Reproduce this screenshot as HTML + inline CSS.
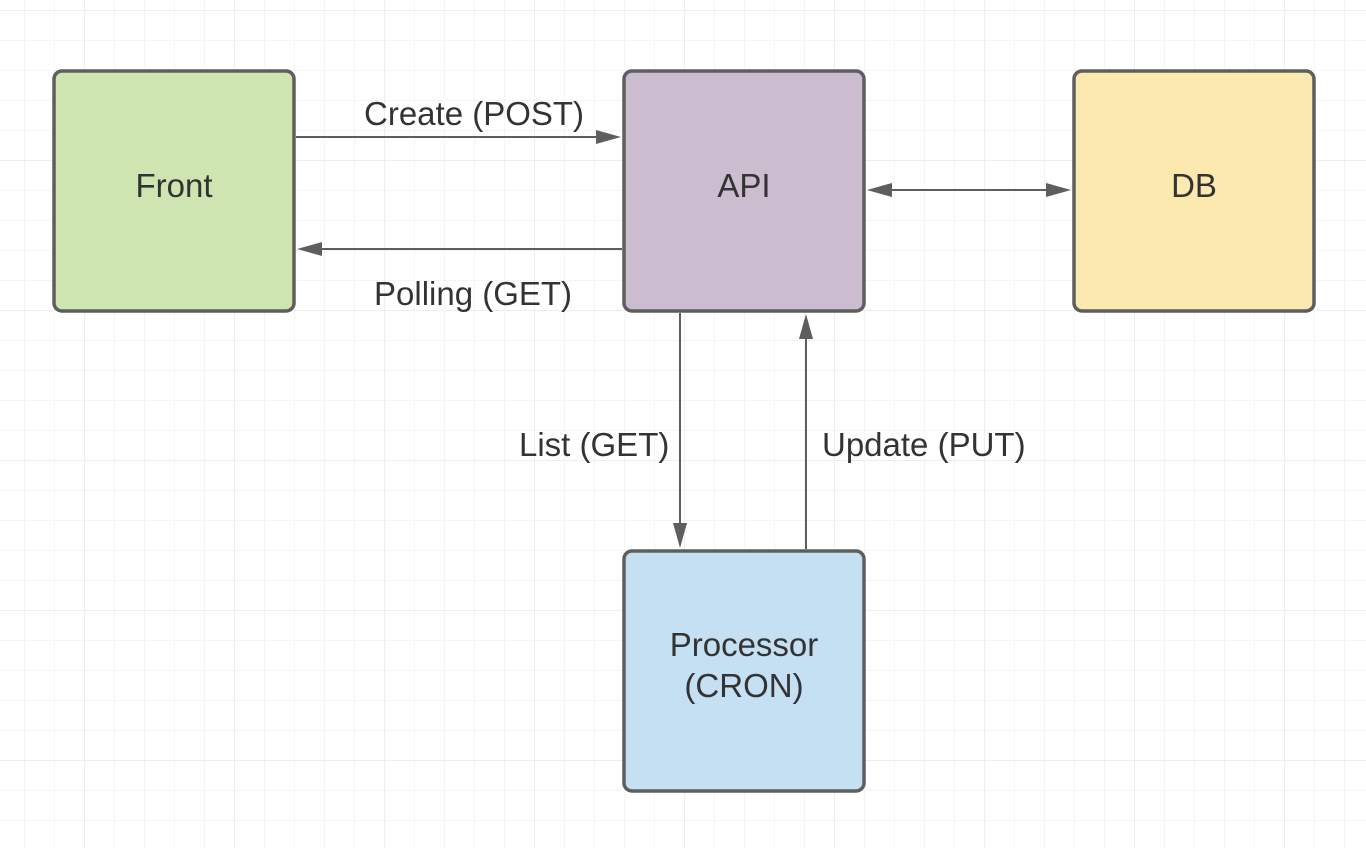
<!DOCTYPE html>
<html><head><meta charset="utf-8"><style>
html,body{margin:0;padding:0;background:#fff;}
svg{display:block;}
text{font-family:"Liberation Sans",sans-serif;fill:#333;}
</style></head><body>
<svg width="1366" height="848" viewBox="0 0 1366 848" xmlns="http://www.w3.org/2000/svg">
<defs>
<pattern id="g" x="24" y="10" width="30" height="30" patternUnits="userSpaceOnUse">
<path d="M0 0H30M0 0V30" stroke="#ebebeb" stroke-width="1" fill="none"/>
</pattern>
<pattern id="G" x="84" y="10" width="150" height="150" patternUnits="userSpaceOnUse">
<path d="M0 0H150M0 0V150" stroke="#dedede" stroke-width="1" fill="none"/>
</pattern>
</defs>
<rect width="1366" height="848" fill="url(#g)"/>
<rect width="1366" height="848" fill="url(#G)"/>
<g stroke="#5e5e5e" stroke-width="3.5">
<rect x="54" y="71" width="240" height="240" rx="8" fill="#cfe5b1"/>
<rect x="624" y="71" width="240" height="240" rx="8" fill="#cbbccf"/>
<rect x="1074" y="71" width="240" height="240" rx="8" fill="#fce9b0"/>
<rect x="624" y="551" width="240" height="240" rx="8" fill="#c5e0f3"/>
</g>
<g stroke="#5e5e5e" stroke-width="2" fill="none">
<path d="M296 137H596"/>
<path d="M596 130L621 137L596 144z" fill="#5e5e5e" stroke="none"/>
<path d="M622 249H322"/>
<path d="M322 242L297 249L322 256z" fill="#5e5e5e" stroke="none"/>
<path d="M892 190H1046"/>
<path d="M892 183L867 190L892 197z" fill="#5e5e5e" stroke="none"/>
<path d="M1046 183L1071 190L1046 197z" fill="#5e5e5e" stroke="none"/>
<path d="M680 313V523"/>
<path d="M673 523L680 548L687 523z" fill="#5e5e5e" stroke="none"/>
<path d="M806 549V339"/>
<path d="M799 339L806 314L813 339z" fill="#5e5e5e" stroke="none"/>
</g>
<g font-size="33" text-anchor="middle">
<text x="174" y="197">Front</text>
<text x="744" y="197">API</text>
<text x="1194" y="197">DB</text>
<text x="744" y="656">Processor</text>
<text x="744" y="697">(CRON)</text>
</g>
<g font-size="33">
<text x="364" y="125">Create (POST)</text>
<text x="374" y="305">Polling (GET)</text>
<text x="519" y="456">List (GET)</text>
<text x="822" y="456">Update (PUT)</text>
</g>
</svg>
</body></html>
